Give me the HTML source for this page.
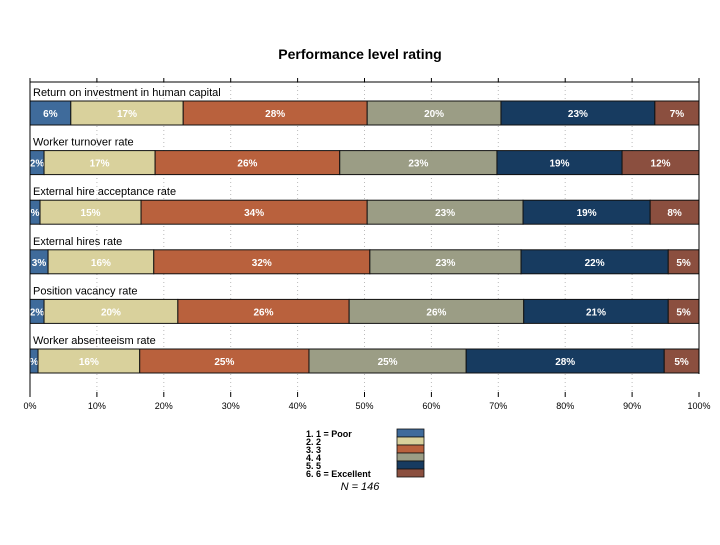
<!DOCTYPE html>
<html><head><meta charset="utf-8"><style>
body{margin:0;background:#fff;}
svg text{font-family:"Liberation Sans",sans-serif;}
</style></head><body>
<svg id="c" width="720" height="540">
<text x="360" y="59" text-anchor="middle" font-size="14" font-weight="bold">Performance level rating</text>
<g id="grid"></g><g id="bars"></g><g id="axis"></g><g id="legend"></g>
<text x="360" y="490" text-anchor="middle" font-size="11" font-style="italic">N = 146</text>
</svg>
<script>
const categories=["Return on investment in human capital","Worker turnover rate","External hire acceptance rate","External hires rate","Position vacancy rate","Worker absenteeism rate"];
const s1=[6.1,2.1,1.5,2.7,2.1,1.2];
const s2=[16.8,16.6,15.1,15.8,20,15.2];
const s3=[27.5,27.6,33.8,32.3,25.6,25.3];
const s4=[20,23.5,23.3,22.6,26.1,23.5];
const s5=[23,18.7,19,22,21.6,29.6];
const s6=[6.6,11.5,7.3,4.6,4.6,5.2];
const labels1=["6%","2%","%","3%","2%","%"];
const labels2=["17%","17%","15%","16%","20%","16%"];
const labels3=["28%","26%","34%","32%","26%","25%"];
const labels4=["20%","23%","23%","23%","26%","25%"];
const labels5=["23%","19%","19%","22%","21%","28%"];
const labels6=["7%","12%","8%","5%","5%","5%"];
const ticks=[0,10,20,30,40,50,60,70,80,90,100];
const legendLabels=["1. 1 = Poor","2. 2","3. 3","4. 4","5. 5","6. 6 = Excellent"];
const colors=["#3f6b9b","#d9d19c","#b9613d","#9b9d85","#173b60","#8b4f3f"];
const textCols=["#fff","#fff","#fff","#fff","#fff","#fff"];
const X0=30,X1=699,TOP=82,BOT=394;
const x=v=>X0+(X1-X0)*v/100;
const rowY=i=>101+i*49.6;
const NS="http://www.w3.org/2000/svg";
function mk(t,a,p){const e=document.createElementNS(NS,t);for(const k in a)e.setAttribute(k,a[k]);p.appendChild(e);return e;}
const g=document.getElementById('grid'),b=document.getElementById('bars'),ax=document.getElementById('axis'),lg=document.getElementById('legend');
ticks.forEach(t=>{
 if(t>0&&t<100){const l=mk('line',{x1:x(t),x2:x(t),y1:TOP,y2:BOT,stroke:'#bbb','stroke-dasharray':'1,3'},g);
 
 }
 const tk=mk('line',{x1:x(t),x2:x(t),y1:TOP-4,y2:TOP,stroke:'#000'},ax);
 
 
 const bt=mk('line',{x1:x(t),x2:x(t),y1:BOT-2,y2:BOT+3,stroke:'#000'},ax);
 
 
 const tl=mk('text',{x:x(t),y:BOT+15,'text-anchor':'middle','font-size':'9'},ax);tl.textContent=t+'%';
 
 
});
const fr=mk('path',{d:`M${X0},${BOT} V${TOP} H${X1} V${rowY(5)+25}`,fill:'none',stroke:'#000'},ax);


const series=[s1,s2,s3,s4,s5,s6],labs=[labels1,labels2,labels3,labels4,labels5,labels6];
categories.forEach((c,i)=>{
 const y=rowY(i);
 const ct=mk('text',{x:X0+3,y:y-5,'font-size':'11'},b);ct.textContent=c;
 
 
 let acc=0;
 series.forEach((s,k)=>{
  const v=s[i],xa=x(acc),xb=x(Math.min(100,acc+v));
  const r=mk('rect',{x:xa,y:y,width:Math.max(0,xb-xa),height:24,fill:colors[k],stroke:'#111','stroke-width':'1'},b);
  
  
  const t=mk('text',{x:(xa+xb)/2,y:y+16,'text-anchor':'middle','font-size':'10','font-weight':'bold',fill:textCols[k]},b);
  t.textContent=labs[k][i];
  
  
  acc+=v;
 });
});
legendLabels.forEach((l,k)=>{
 const t=mk('text',{x:306,y:437+k*8,'font-size':'9','font-weight':'bold'},lg);t.textContent=l;
 
 
 const r=mk('rect',{x:397,y:429+k*8,width:27,height:8,fill:colors[k],stroke:'#111','stroke-width':'0.8'},lg);
 
 
});
</script>
</body></html>
